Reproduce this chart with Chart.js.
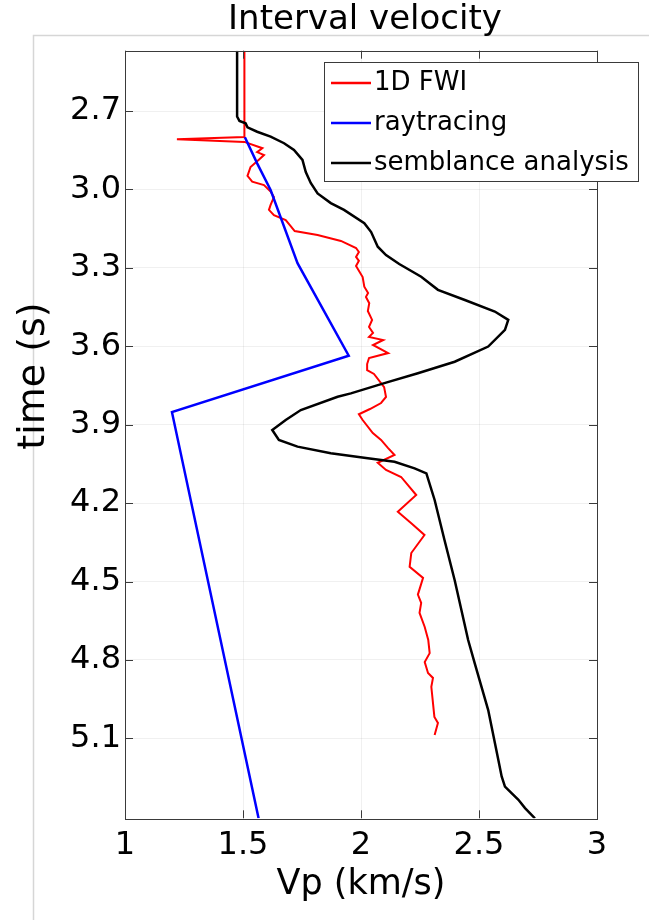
<!DOCTYPE html>
<html><head><meta charset="utf-8">
<script src="https://cdn.jsdelivr.net/npm/chart.js@4/dist/chart.umd.min.js"></script>
<style>html,body{margin:0;padding:0;background:#fff}#wrap{width:649px;height:920px;position:relative}canvas{display:block}</style>
</head><body><div id="wrap"><canvas id="c" width="649" height="920"></canvas></div>
<script>
// ---- data ----
const xTicks = [1, 1.5, 2, 2.5, 3];
const yTicks = [2.7, 3.0, 3.3, 3.6, 3.9, 4.2, 4.5, 4.8, 5.1];
const seriesNames = ['1D FWI', 'raytracing', 'semblance analysis'];

const fwiTime = [2.469,2.799,2.808,2.818,2.842,2.857,2.868,2.887,2.914,2.948,2.970,2.983,3.008,3.029,3.059,3.078,3.098,3.117,3.140,3.159,3.174,3.197,3.224,3.239,3.258,3.273,3.293,3.335,3.372,3.396,3.411,3.435,3.465,3.499,3.526,3.549,3.564,3.576,3.595,3.626,3.645,3.668,3.691,3.706,3.756,3.794,3.817,3.840,3.860,3.882,3.932,3.958,3.989,4.016,4.046,4.073,4.100,4.169,4.233,4.277,4.322,4.391,4.444,4.486,4.550,4.582,4.620,4.674,4.724,4.774,4.808,4.850,4.869,4.903,5.018,5.041,5.087];
const fwiVp   = [1.506,1.506,1.220,1.506,1.582,1.560,1.589,1.566,1.532,1.519,1.539,1.589,1.617,1.631,1.617,1.610,1.631,1.681,1.702,1.719,1.816,1.915,1.979,1.991,1.979,1.991,1.979,2.007,2.014,2.030,2.021,2.035,2.029,2.047,2.034,2.051,2.034,2.094,2.051,2.115,2.034,2.026,2.026,2.055,2.098,2.106,2.085,2.038,1.991,2.007,2.050,2.085,2.114,2.142,2.071,2.106,2.170,2.234,2.156,2.213,2.269,2.213,2.206,2.263,2.241,2.255,2.248,2.270,2.285,2.291,2.270,2.284,2.305,2.298,2.311,2.326,2.312];

const rayTime = [2.800,2.900,3.002,3.282,3.636,3.852,5.406];
const rayVp   = [1.508,1.560,1.617,1.731,1.948,1.199,1.566];

const sembTime = [2.469,2.721,2.738,2.747,2.762,2.779,2.798,2.823,2.849,2.887,2.933,2.975,3.015,3.052,3.078,3.129,3.163,3.219,3.251,3.285,3.334,3.384,3.423,3.467,3.499,3.537,3.601,3.659,3.703,3.741,3.780,3.793,3.844,3.882,3.920,3.958,3.984,4.009,4.028,4.042,4.067,4.086,4.188,4.342,4.495,4.724,4.813,4.992,5.183,5.246,5.285,5.310,5.335,5.367,5.406];
const sembVp   = [1.475,1.475,1.485,1.511,1.519,1.560,1.617,1.674,1.716,1.752,1.766,1.787,1.816,1.872,1.928,2.014,2.043,2.071,2.106,2.162,2.255,2.326,2.440,2.567,2.624,2.610,2.539,2.397,2.241,2.099,1.957,1.901,1.745,1.681,1.624,1.652,1.731,1.872,2.029,2.142,2.227,2.277,2.312,2.354,2.397,2.454,2.482,2.539,2.582,2.596,2.610,2.638,2.667,2.695,2.737];

const FONT = "'DejaVu Sans', Verdana, sans-serif";
const toPts = (xs, ts) => xs.map((v, i) => ({x: v, y: ts[i]}));

const framePlugin = {
  id: 'framePlugin',
  beforeDraw(chart) {
    const ctx = chart.ctx;
    ctx.save();
    ctx.strokeStyle = '#d6d6d6';
    ctx.lineWidth = 1.5;
    ctx.beginPath();
    ctx.moveTo(33.5, 920); ctx.lineTo(33.5, 35.5); ctx.lineTo(649, 35.5);
    ctx.stroke();
    ctx.restore();
  },
  afterDatasetsDraw(chart) {
    const {ctx, chartArea: a, scales: {x, y}} = chart;
    ctx.save();
    ctx.strokeStyle = '#3a3a3a';
    ctx.lineWidth = 1;
    ctx.strokeRect(Math.round(a.left) + 0.5, Math.round(a.top) + 0.5, Math.round(a.right - a.left), Math.round(a.bottom - a.top));
    const L = 8;
    ctx.beginPath();
    xTicks.forEach(v => {
      const px = Math.round(x.getPixelForValue(v)) + 0.5;
      ctx.moveTo(px, a.bottom); ctx.lineTo(px, a.bottom - L);
      ctx.moveTo(px, a.top); ctx.lineTo(px, a.top + L);
    });
    yTicks.forEach(v => {
      const py = Math.round(y.getPixelForValue(v)) + 0.5;
      ctx.moveTo(a.left, py); ctx.lineTo(a.left + L, py);
      ctx.moveTo(a.right, py); ctx.lineTo(a.right - L, py);
    });
    ctx.stroke();
    ctx.restore();
  },
  afterLayout(chart) {
    const t = chart.titleBlock;
    if (t) { const cx = 365; t.left = cx - 250; t.right = cx + 250; }
  },
  afterDraw(chart) {
    const ctx = chart.ctx;
    ctx.save();
    ctx.translate(34, 376);
    ctx.rotate(-Math.PI / 2);
    ctx.fillStyle = '#000';
    ctx.font = "38px " + FONT;
    ctx.textAlign = 'center';
    ctx.textBaseline = 'middle';
    ctx.fillText('time (s)', 0, 0);
    ctx.restore();
    const box = {l: 324, t: 62, r: 638, b: 181};
    ctx.save();
    ctx.fillStyle = '#fff';
    ctx.fillRect(box.l, box.t, box.r - box.l, box.b - box.t);
    ctx.strokeStyle = '#3a3a3a';
    ctx.lineWidth = 1;
    ctx.strokeRect(box.l + 0.5, box.t + 0.5, box.r - box.l, box.b - box.t);
    ctx.font = "26px " + FONT;
    ctx.textAlign = 'left';
    ctx.textBaseline = 'middle';
    chart.data.datasets.forEach((ds, i) => {
      const yy = 83 + i * 40;
      ctx.strokeStyle = ds.borderColor;
      ctx.lineWidth = 2.5;
      ctx.beginPath(); ctx.moveTo(331, yy); ctx.lineTo(371, yy); ctx.stroke();
      ctx.fillStyle = '#000';
      ctx.fillText(ds.label, 374, yy);
    });
    ctx.restore();
  }
};

new Chart(document.getElementById('c'), {
  type: 'scatter',
  data: {
    datasets: [
      {label: seriesNames[0], data: toPts(fwiVp, fwiTime), borderColor: '#ff0000', backgroundColor: '#ff0000', borderWidth: 2, showLine: true, pointRadius: 0, tension: 0, order: 3},
      {label: seriesNames[1], data: toPts(rayVp, rayTime), borderColor: '#0000ff', backgroundColor: '#0000ff', borderWidth: 2.5, showLine: true, pointRadius: 0, tension: 0, order: 2},
      {label: seriesNames[2], data: toPts(sembVp, sembTime), borderColor: '#000000', backgroundColor: '#000000', borderWidth: 2.5, showLine: true, pointRadius: 0, tension: 0, order: 1}
    ]
  },
  options: {
    responsive: false,
    devicePixelRatio: 1,
    animation: false,
    layout: {padding: {left: 0, right: 52, top: 0, bottom: 0}},
    plugins: {
      legend: {display: false},
      tooltip: {enabled: false},
      title: {display: true, text: 'Interval velocity', color: '#000', font: {family: FONT, size: 34, weight: 'normal'}, padding: {top: 0, bottom: 9.9}}
    },
    scales: {
      x: {
        type: 'linear', position: 'bottom', min: 1, max: 3,
        afterBuildTicks: s => { s.ticks = xTicks.map(v => ({value: v})); },
        afterFit: s => { s.height = 101.7; s.paddingLeft = 0; s.paddingRight = 0; },
        ticks: {color: '#000', font: {family: FONT, size: 32}, padding: 8, maxRotation: 0, autoSkip: false, callback: v => String(v)},
        grid: {color: 'rgba(0,0,0,0.06)', drawTicks: false},
        border: {display: false},
        title: {display: true, text: 'Vp (km/s)', color: '#000', font: {family: FONT, size: 35}, padding: {top: 0, bottom: 14}}
      },
      y: {
        type: 'linear', reverse: true, min: 2.469, max: 5.406,
        afterBuildTicks: s => { s.ticks = yTicks.map(v => ({value: v})); },
        afterFit: s => { s.width = 125; s.paddingTop = 0; s.paddingBottom = 0; },
        ticks: {color: '#000', font: {family: FONT, size: 32}, padding: 4, autoSkip: false, callback: v => v.toFixed(1)},
        grid: {color: 'rgba(0,0,0,0.06)', drawTicks: false},
        border: {display: false}
      }
    }
  },
  plugins: [framePlugin]
});
</script>
</body></html>
